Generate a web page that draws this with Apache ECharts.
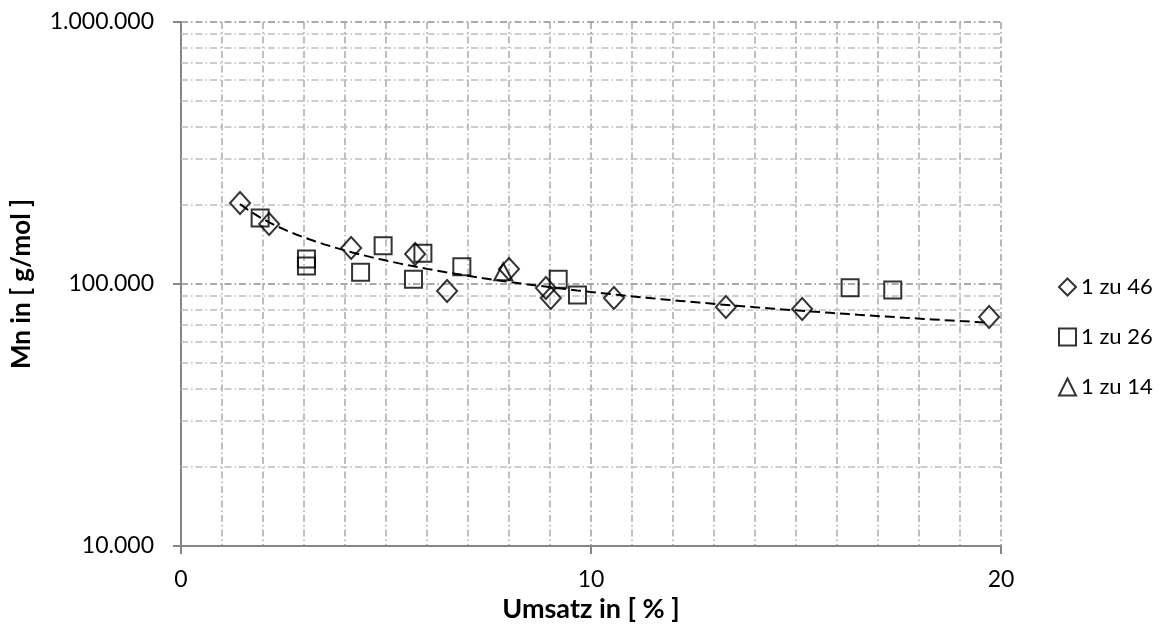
<!DOCTYPE html>
<html>
<head>
<meta charset="utf-8">
<script src="https://cdn.jsdelivr.net/npm/echarts@6/dist/echarts.min.js"></script>
<style>
  html, body { margin: 0; padding: 0; background: #fff; }
  #chart { width: 1161px; height: 637px; }
</style>
</head>
<body>
<div id="chart"></div>
<script>
// Umsatz [%] and Mn [g/mol] for the three monomer ratios
const seriesNames = ['1 zu 46', '1 zu 26', '1 zu 14'];

const umsatz46 = [1.44, 2.15, 4.15, 5.71, 6.49, 8.0, 8.90, 9.02, 10.56, 13.29, 15.15, 19.71];
const mn46     = [203700, 169500, 137200, 130200, 94000, 114000, 96500, 88400, 88400, 81700, 80300, 74800];

const umsatz26 = [1.93, 3.06, 3.06, 4.38, 4.93, 5.67, 5.90, 6.85, 9.20, 9.67, 16.32, 17.36];
const mn26     = [178700, 124600, 117200, 110800, 140000, 104200, 131000, 116400, 104200, 90800, 96800, 94900];

const umsatz14 = [7.86];
const mn14     = [111400];

// y-axis decades and the minor values between them
const yMajor = [10000, 100000, 1000000];
const yMinorFactors = [2, 3, 4, 5, 6, 7, 8, 9];

// power trendline (y = a * x^b) fitted in log-log space to the 1 zu 46 series
function powerFit(xs, ys) {
  const lx = xs.map(Math.log), ly = ys.map(Math.log);
  const n = xs.length;
  const mx = lx.reduce((s, v) => s + v, 0) / n;
  const my = ly.reduce((s, v) => s + v, 0) / n;
  let sxy = 0, sxx = 0;
  for (let i = 0; i < n; i++) {
    sxy += (lx[i] - mx) * (ly[i] - my);
    sxx += (lx[i] - mx) * (lx[i] - mx);
  }
  const b = sxy / sxx;
  const a = Math.exp(my - b * mx);
  return { a, b };
}
const fit = powerFit(umsatz46, mn46);
const xMin = Math.min(...umsatz46), xMax = Math.max(...umsatz46);
const trend = [];
for (let i = 0; i <= 80; i++) {
  const x = xMin + (xMax - xMin) * i / 80;
  trend.push([x, fit.a * Math.pow(x, fit.b)]);
}

const minorLines = [];
for (let d = 0; d < yMajor.length - 1; d++) {
  yMinorFactors.forEach(f => minorLines.push({ yAxis: yMajor[d] * f }));
}

function germanThousands(v) {
  return String(Math.round(v)).replace(/\B(?=(\d{3})+(?!\d))/g, '.');
}

const FONT = 'Lato';
const dashDot = [7, 3, 1.5, 3];
const markerStyle = { color: 'transparent', borderColor: '#000', borderWidth: 2 };

const zip = (xs, ys) => xs.map((x, i) => [x, ys[i]]);

const chart = echarts.init(document.getElementById('chart'), null, { renderer: 'canvas' });
chart.setOption({
  animation: false,
  backgroundColor: '#fff',
  textStyle: { fontFamily: FONT },
  grid: { left: 181, right: 160, top: 22, bottom: 91, containLabel: false },
  legend: {
    orient: 'vertical',
    left: 1053,
    top: 271,
    itemWidth: 17,
    itemHeight: 17,
    itemGap: 28,
    textStyle: { fontFamily: FONT, fontSize: 22, color: '#000', padding: [0, 0, 0, 0] },
    data: seriesNames
  },
  xAxis: {
    type: 'value',
    min: 0,
    max: 20,
    interval: 10,
    name: 'Umsatz in [ % ]',
    nameLocation: 'middle',
    nameGap: 49,
    nameTextStyle: { fontFamily: FONT, fontSize: 27, fontWeight: 'bold', color: '#000' },
    axisLine: { show: true, onZero: false, lineStyle: { color: '#868686', width: 2 } },
    axisTick: { show: true, length: 8, lineStyle: { color: '#868686', width: 2 } },
    axisLabel: { fontFamily: FONT, fontSize: 23, color: '#000', margin: 22 },
    splitLine: { show: true, lineStyle: { color: '#a0a0a0', width: 1.5, type: dashDot } },
    minorTick: { show: false, splitNumber: 10 },
    minorSplitLine: { show: true, lineStyle: { color: '#ababab', width: 1.5, type: dashDot } }
  },
  yAxis: {
    type: 'log',
    logBase: 10,
    min: 10000,
    max: 1000000,
    name: 'Mn in [ g/mol ]',
    nameLocation: 'middle',
    nameGap: 146,
    nameRotate: 90,
    nameTextStyle: { fontFamily: FONT, fontSize: 26, fontWeight: 'bold', color: '#000' },
    axisLine: { show: true, lineStyle: { color: '#868686', width: 2 } },
    axisTick: { show: true, length: 8, lineStyle: { color: '#868686', width: 2 } },
    axisLabel: { fontFamily: FONT, fontSize: 23, color: '#000', margin: 27, formatter: germanThousands },
    splitLine: { show: true, lineStyle: { color: '#8f8f8f', width: 1.5, type: dashDot } }
  },
  series: [
    {
      name: '1 zu 46',
      type: 'scatter',
      symbol: 'diamond',
      symbolSize: [20, 22],
      itemStyle: markerStyle,
      data: zip(umsatz46, mn46),
      z: 5
    },
    {
      name: '1 zu 26',
      type: 'scatter',
      symbol: 'rect',
      symbolSize: [17, 17],
      itemStyle: markerStyle,
      data: zip(umsatz26, mn26),
      z: 5
    },
    {
      name: '1 zu 14',
      type: 'scatter',
      symbol: 'triangle',
      symbolSize: [18, 17],
      itemStyle: markerStyle,
      data: zip(umsatz14, mn14),
      z: 5
    },
    {
      name: 'trend',
      type: 'line',
      data: trend,
      showSymbol: false,
      silent: true,
      lineStyle: { color: '#000', width: 2, type: [10, 5] },
      z: 4,
      markLine: {
        silent: true,
        symbol: 'none',
        label: { show: false },
        lineStyle: { color: '#bdbdbd', width: 1.5, type: dashDot },
        data: minorLines,
        z: 1
      }
    }
  ]
});
</script>
</body>
</html>
